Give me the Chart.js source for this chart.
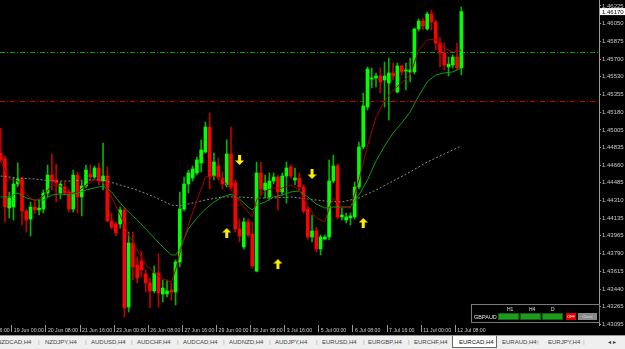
<!DOCTYPE html>
<html lang="en">
<head>
<meta charset="UTF-8">
<title>EURCAD,H4</title>
<script src="https://cdn.jsdelivr.net/npm/chart.js"></script>
<style>
  html, body {
    margin: 0;
    padding: 0;
    background: #000;
    overflow: hidden;
  }
  body {
    width: 625px;
    height: 349px;
    position: relative;
    font-family: 'Liberation Sans', Arial, sans-serif;
  }
  .chart-wrap {
    position: absolute;
    left: 0;
    top: 0;
    width: 625px;
    height: 335px;
  }
  .panel {
    position: absolute;
    left: 471px;
    top: 304px;
    width: 127px;
    height: 17px;
    border: 1px solid #7a7a7a;
  }
  .panel span {
    position: absolute;
    color: #e0e0e0;
    font-size: 5px;
    line-height: 5px;
    white-space: nowrap;
  }
  .panel .cell {
    height: 7px;
    top: 8px;
    background: #1f9a1f;
    border: 1px solid #0d640d;
    box-sizing: border-box;
  }
  .panel .btn {
    top: 8px;
    height: 7px;
    font-size: 4px;
    line-height: 7px;
    text-align: center;
  }
  .tabs {
    position: absolute;
    left: 0;
    top: 335px;
    width: 625px;
    height: 14px;
    background: #efefef;
    border-top: 1px solid #9a9a9a;
    box-sizing: border-box;
    overflow: hidden;
    font-family: 'Liberation Sans Narrow', 'Liberation Sans', Arial, sans-serif;
  }
  .tabs span {
    position: absolute;
    top: 3px;
    font-size: 6px;
    line-height: 7px;
    color: #444;
    white-space: nowrap;
  }
  .tabs .active {
    top: -1px;
    height: 13px;
    background: #fff;
    border: 1px solid #6a6a6a;
    border-top: none;
    box-sizing: border-box;
  }
  .tabs .sep {
    color: #9a9a9a;
  }
</style>
</head>
<body>
<div class="chart-wrap">
  <canvas id="chart"></canvas>
</div>
<div class="panel">
  <span style="left:2px;top:10px;font-size:5.5px">GBPAUD</span>
  <span style="left:35px;top:2px">H1</span>
  <span style="left:57px;top:2px">H4</span>
  <span style="left:79px;top:2px">D</span>
  <span class="cell" style="left:26px;width:21px"></span>
  <span class="cell" style="left:48px;width:21px"></span>
  <span class="cell" style="left:70px;width:21px"></span>
  <span class="btn" style="left:94px;width:10px;background:#e00000;color:#fff">OFF</span>
  <span class="btn" style="left:106px;width:19px;background:#8a8a8a;color:#ddd">Close</span>
</div>
<div class="tabs" id="tabs"></div>

<script>
  // H4 candles, oldest first
  const open = [
    1.44778, 1.44719, 1.44237, 1.44247, 1.44473, 1.44523, 1.44208, 1.44129, 1.44247, 1.44218,
    1.44227, 1.44385, 1.44562, 1.44513, 1.44385, 1.44444, 1.44395, 1.44227, 1.44562, 1.44346,
    1.44454, 1.44572, 1.44542, 1.44631, 1.44503, 1.44552, 1.44109, 1.44080, 1.44080, 1.44218,
    1.43263, 1.43893, 1.43676, 1.43716, 1.43588, 1.43499, 1.43421, 1.43598, 1.43391, 1.43391,
    1.43430, 1.43411, 1.43706, 1.44227, 1.44473, 1.44532, 1.44582, 1.44680, 1.44788, 1.45034,
    1.44552, 1.44651, 1.44532, 1.44464, 1.44769, 1.44483, 1.44031, 1.43854, 1.44100, 1.43981,
    1.43617, 1.44582, 1.44414, 1.44346, 1.44503, 1.44542, 1.44395, 1.44552, 1.44641, 1.44513,
    1.44532, 1.44444, 1.44227, 1.43952, 1.44011, 1.43834, 1.43932, 1.43952, 1.44503, 1.44651,
    1.44149, 1.44119, 1.44139, 1.44149, 1.44444, 1.44838, 1.45231, 1.45507, 1.45516, 1.45536,
    1.45497, 1.45467, 1.45566, 1.45379, 1.45635, 1.45585, 1.45576, 1.45576, 1.45999, 1.46077,
    1.45999, 1.46146, 1.46068, 1.45861, 1.45762, 1.45625, 1.45644, 1.45723, 1.45615
  ];
  const high = [
    1.45024, 1.44749, 1.44395, 1.44532, 1.44680, 1.44542, 1.44227, 1.44296, 1.44316, 1.44316,
    1.44414, 1.44660, 1.44769, 1.44670, 1.44493, 1.44493, 1.44424, 1.44611, 1.44592, 1.44503,
    1.44660, 1.44660, 1.44651, 1.44680, 1.44877, 1.44641, 1.44188, 1.44100, 1.44247, 1.44237,
    1.44001, 1.44001, 1.43755, 1.43814, 1.43627, 1.43548, 1.43667, 1.43785, 1.43529, 1.43529,
    1.43499, 1.43726, 1.44395, 1.44542, 1.44611, 1.44651, 1.44739, 1.44906, 1.45084, 1.45172,
    1.44778, 1.44729, 1.44592, 1.44906, 1.45034, 1.44513, 1.44129, 1.44139, 1.44129, 1.44100,
    1.44690, 1.44690, 1.44562, 1.44582, 1.44582, 1.44562, 1.44582, 1.44690, 1.44660, 1.44631,
    1.44582, 1.44464, 1.44247, 1.44168, 1.44050, 1.43972, 1.43972, 1.44710, 1.44759, 1.44670,
    1.44237, 1.44188, 1.44188, 1.44493, 1.44887, 1.45369, 1.45625, 1.45615, 1.45566, 1.45615,
    1.45674, 1.45713, 1.45664, 1.45664, 1.45644, 1.45664, 1.45713, 1.46008, 1.46097, 1.46107,
    1.46166, 1.46186, 1.46087, 1.45920, 1.45861, 1.45723, 1.45743, 1.45861, 1.46215
  ];
  const low = [
    1.44690, 1.44100, 1.44139, 1.44119, 1.44444, 1.44070, 1.44001, 1.43962, 1.44178, 1.44168,
    1.44188, 1.44346, 1.44414, 1.44296, 1.44326, 1.44365, 1.44198, 1.44198, 1.44188, 1.44159,
    1.44434, 1.44503, 1.44523, 1.44464, 1.44414, 1.44100, 1.44031, 1.43962, 1.44040, 1.43165,
    1.43214, 1.43529, 1.43499, 1.43558, 1.43411, 1.43253, 1.43401, 1.43263, 1.43312, 1.43362,
    1.43332, 1.43283, 1.43657, 1.44208, 1.44385, 1.44503, 1.44562, 1.44592, 1.44778, 1.44424,
    1.44513, 1.44513, 1.44424, 1.44444, 1.44424, 1.44001, 1.43903, 1.43834, 1.43952, 1.43647,
    1.43608, 1.44365, 1.44336, 1.44316, 1.44473, 1.44218, 1.44365, 1.44286, 1.44532, 1.44464,
    1.44414, 1.44188, 1.43932, 1.43903, 1.43804, 1.43775, 1.43922, 1.43922, 1.44483, 1.44129,
    1.44119, 1.44090, 1.44070, 1.44129, 1.44424, 1.44818, 1.45202, 1.45418, 1.45428, 1.45369,
    1.45231, 1.45103, 1.45497, 1.45369, 1.45546, 1.45398, 1.45477, 1.45556, 1.45979, 1.45989,
    1.45989, 1.45989, 1.45792, 1.45625, 1.45595, 1.45536, 1.45615, 1.45595, 1.45546
  ];
  const close = [
    1.44710, 1.44247, 1.44336, 1.44473, 1.44523, 1.44208, 1.44119, 1.44247, 1.44218, 1.44237,
    1.44385, 1.44562, 1.44503, 1.44483, 1.44473, 1.44385, 1.44227, 1.44562, 1.44346, 1.44454,
    1.44611, 1.44542, 1.44631, 1.44503, 1.44552, 1.44109, 1.44050, 1.43991, 1.44218, 1.43253,
    1.43893, 1.43657, 1.43548, 1.43627, 1.43499, 1.43421, 1.43598, 1.43401, 1.43450, 1.43421,
    1.43411, 1.43706, 1.44227, 1.44473, 1.44582, 1.44621, 1.44710, 1.44808, 1.45034, 1.44542,
    1.44690, 1.44542, 1.44473, 1.44769, 1.44444, 1.44031, 1.43962, 1.44100, 1.43972, 1.43667,
    1.44582, 1.44424, 1.44483, 1.44503, 1.44542, 1.44395, 1.44552, 1.44631, 1.44552, 1.44532,
    1.44444, 1.44208, 1.43952, 1.44011, 1.43834, 1.43952, 1.43952, 1.44503, 1.44651, 1.44149,
    1.44168, 1.44149, 1.44159, 1.44444, 1.44838, 1.45241, 1.45605, 1.45516, 1.45536, 1.45477,
    1.45536, 1.45566, 1.45536, 1.45635, 1.45576, 1.45595, 1.45595, 1.45999, 1.46077, 1.46028,
    1.46146, 1.46068, 1.45861, 1.45762, 1.45644, 1.45654, 1.45723, 1.45615, 1.46170
  ];

  // moving averages: [bar index, price]
  const fastMA = [
    [0, 1.44690], [2, 1.44523], [4, 1.44503], [6, 1.44365], [8, 1.44306], [10, 1.44355],
    [12, 1.44464], [14, 1.44454], [16, 1.44375], [18, 1.44395], [20, 1.44464], [22, 1.44513],
    [24, 1.44493], [26, 1.44346], [28, 1.44168], [30, 1.43972], [32, 1.43824], [34, 1.43686],
    [36, 1.43598], [38, 1.43539], [40, 1.43509], [41, 1.43627], [42, 1.43794], [44, 1.44070],
    [46, 1.44316], [48, 1.44542], [50, 1.44552], [52, 1.44523], [54, 1.44414], [56, 1.44306],
    [57, 1.44247], [58, 1.44198], [59, 1.44149], [60, 1.44316], [62, 1.44405], [64, 1.44434],
    [66, 1.44434], [68, 1.44464], [70, 1.44414], [72, 1.44257], [74, 1.44139], [76, 1.44100],
    [77, 1.44237], [78, 1.44336], [80, 1.44247], [82, 1.44237], [84, 1.44513], [86, 1.44847],
    [88, 1.45133], [90, 1.45290], [92, 1.45398], [94, 1.45467], [96, 1.45546], [98, 1.45792],
    [100, 1.45890], [102, 1.45900], [104, 1.45812], [106, 1.45772], [108, 1.45792]
  ];
  const slowMA = [
    [0, 1.44346], [2, 1.44346], [4, 1.44385], [6, 1.44336], [8, 1.44316], [10, 1.44316],
    [12, 1.44365], [14, 1.44375], [16, 1.44365], [18, 1.44385], [20, 1.44414], [22, 1.44434],
    [24, 1.44454], [26, 1.44395], [28, 1.44286], [30, 1.44198], [32, 1.44119], [34, 1.44031],
    [36, 1.43942], [38, 1.43854], [40, 1.43775], [41, 1.43775], [42, 1.43834], [44, 1.44031],
    [46, 1.44139], [48, 1.44227], [50, 1.44296], [52, 1.44346], [54, 1.44375], [56, 1.44326],
    [58, 1.44247], [59, 1.44218], [60, 1.44267], [62, 1.44296], [64, 1.44346], [66, 1.44365],
    [68, 1.44395], [70, 1.44405], [72, 1.44346], [74, 1.44277], [76, 1.44237], [78, 1.44247],
    [80, 1.44247], [82, 1.44247], [84, 1.44365], [86, 1.44513], [88, 1.44700], [90, 1.44847],
    [92, 1.44975], [94, 1.45074], [96, 1.45182], [98, 1.45339], [100, 1.45477], [102, 1.45546],
    [104, 1.45566], [106, 1.45576], [108, 1.45615]
  ];
  const longMA = [
    [0, 1.44552], [4, 1.44532], [8, 1.44523], [12, 1.44503], [16, 1.44503], [20, 1.44513],
    [24, 1.44513], [28, 1.44464], [32, 1.44414], [36, 1.44346], [40, 1.44267], [42, 1.44257],
    [44, 1.44277], [48, 1.44316], [52, 1.44346], [56, 1.44346], [60, 1.44336], [64, 1.44336],
    [68, 1.44346], [72, 1.44326], [76, 1.44306], [80, 1.44296], [84, 1.44336], [88, 1.44414],
    [92, 1.44503], [96, 1.44592], [100, 1.44690], [104, 1.44769], [108, 1.44847]
  ];

  // signal arrows
  const buySignals = [[53, 1.43991], [65, 1.43686], [85, 1.44090]];
  const sellSignals = [[56, 1.44710], [73, 1.44572]];

  // horizontal levels
  const levels = [1.45772, 1.45290];
  const levelColors = ['#00a400', '#c80000'];

  // axis labels
  const priceTicks = [
    1.46225, 1.46050, 1.45875, 1.45700, 1.45530, 1.45355, 1.45180, 1.45005, 1.44835, 1.44660,
    1.44485, 1.44310, 1.44135, 1.43965, 1.43790, 1.43615, 1.43440, 1.43265, 1.43095
  ];
  const timeTickPos = [-5.4, 2.6, 10.6, 18.6, 26.6, 34.6, 42.6, 50.6, 58.6, 66.6, 74.6, 82.6, 90.6, 98.6, 106.6];
  const timeLabels = [
    '16 Jun 16:00', '19 Jun 00:00', '20 Jun 08:00', '21 Jun 16:00', '23 Jun 00:00', '26 Jun 08:00',
    '27 Jun 16:00', '29 Jun 00:00', '30 Jun 08:00', '3 Jul 16:00', '5 Jul 00:00', '6 Jul 08:00',
    '7 Jul 16:00', '11 Jul 00:00', '12 Jul 08:00'
  ];

  const tabNames = [
    'NZDCAD,H4', 'NZDJPY,H4', 'AUDUSD,H4', 'AUDCHF,H4', 'AUDCAD,H4', 'AUDNZD,H4', 'AUDJPY,H4',
    'EURUSD,H4', 'EURGBP,H4', 'EURCHF,H4', 'EURCAD,H4', 'EURAUD,H4', 'EURJPY,H4'
  ];
  const activeTab = 'EURCAD,H4';

  // tab strip
  const tabLeft = [-3, 45, 91, 137, 183, 229, 275, 322, 368, 414, 459, 502, 548];
  const sepLeft = [38, 85, 131, 177, 223, 269, 316, 363, 408, 537, 583];
  const tabs = document.getElementById('tabs');
  tabNames.forEach((name, i) => {
    if (name === activeTab) {
      const box = document.createElement('span');
      box.className = 'active';
      box.style.left = (tabLeft[i] - 7) + 'px';
      box.style.width = '45px';
      tabs.appendChild(box);
    }
    const s = document.createElement('span');
    s.textContent = name;
    s.style.left = tabLeft[i] + 'px';
    if (name === activeTab) s.style.color = '#111';
    tabs.appendChild(s);
  });
  sepLeft.forEach(x => {
    const s = document.createElement('span');
    s.className = 'sep';
    s.textContent = '|';
    s.style.left = x + 'px';
    tabs.appendChild(s);
  });
  const nav = document.createElement('span');
  nav.textContent = '\u25C2 \u25B8';
  nav.style.left = '608px';
  nav.style.fontSize = '6px';
  nav.style.color = '#333';
  tabs.appendChild(nav);

  // arrow glyphs used as point styles
  function makeArrow(up) {
    const c = document.createElement('canvas');
    c.width = 9;
    c.height = 10;
    const g = c.getContext('2d');
    g.fillStyle = '#ffee00';
    g.beginPath();
    [[4.5, 0], [9, 4.5], [6, 4.5], [6, 10], [3, 10], [3, 4.5], [0, 4.5]].forEach(([x, y], i) => {
      const yy = up ? y : 10 - y;
      if (i) g.lineTo(x, yy); else g.moveTo(x, yy);
    });
    g.closePath();
    g.fill();
    return c;
  }

  const isUp = i => close[i] >= open[i];
  const wicks = open.map((_, i) => ({ x: i, y: [low[i], high[i]] }));
  const bodies = open.map((_, i) => ({ x: i, y: [open[i], close[i]] }));
  const toXY = arr => arr.map(([x, y]) => ({ x, y }));
  const lastPrice = close[close.length - 1];

  const overlay = {
    id: 'overlay',
    beforeDatasetsDraw(chart) {
      const { ctx, chartArea: a, scales: { y } } = chart;
      ctx.save();
      ctx.lineWidth = 1;
      ctx.setLineDash([5, 2, 1, 2]);
      levels.forEach((lv, i) => {
        const py = Math.round(y.getPixelForValue(lv)) + 0.5;
        ctx.strokeStyle = levelColors[i];
        ctx.beginPath();
        ctx.moveTo(a.left, py);
        ctx.lineTo(a.right, py);
        ctx.stroke();
      });
      ctx.restore();
    },
    afterDraw(chart) {
      const { ctx, chartArea: a, scales: { y } } = chart;
      const py = y.getPixelForValue(lastPrice);
      ctx.save();
      ctx.fillStyle = '#fff';
      ctx.fillRect(a.right + 1, py - 3.5, 25, 7);
      ctx.fillStyle = '#000';
      ctx.font = '6px "Liberation Sans", Arial, sans-serif';
      ctx.textBaseline = 'middle';
      ctx.fillText(lastPrice.toFixed(5), a.right + 3, py + 0.5);
      ctx.restore();
    }
  };

  // keep edge labels from pushing the plot area inward
  const noPad = s => {
    s._calculatePadding = () => {
      s.paddingLeft = 0;
      s.paddingRight = 0;
      s.paddingTop = 0;
      s.paddingBottom = 0;
    };
  };

  Chart.defaults.font.family = '"Liberation Sans", Arial, sans-serif';

  new Chart(document.getElementById('chart'), {
    type: 'bar',
    data: {
      datasets: [
        {
          type: 'line', data: toXY(buySignals), showLine: false,
          pointStyle: makeArrow(true), pointRadius: 5
        },
        {
          type: 'line', data: toXY(sellSignals), showLine: false,
          pointStyle: makeArrow(false), pointRadius: 5
        },
        {
          type: 'line', data: toXY(fastMA), borderColor: '#a80000',
          borderWidth: 1, pointRadius: 0, tension: 0
        },
        {
          type: 'line', data: toXY(slowMA), borderColor: '#0f9a0f',
          borderWidth: 1, pointRadius: 0, tension: 0
        },
        {
          type: 'line', data: toXY(longMA), borderColor: '#8c8c8c',
          borderWidth: 1, borderDash: [2, 2], pointRadius: 0, tension: 0
        },
        {
          data: bodies, grouped: false, barThickness: 3, minBarLength: 1,
          backgroundColor: c => isUp(c.dataIndex) ? '#00ff00' : '#ff0000'
        },
        {
          data: wicks, grouped: false, barThickness: 1,
          backgroundColor: c => isUp(c.dataIndex) ? '#00b400' : '#c00000'
        }
      ]
    },
    options: {
      responsive: true,
      maintainAspectRatio: false,
      animation: false,
      layout: { padding: 0, autoPadding: false },
      plugins: {
        legend: { display: false },
        tooltip: { enabled: false }
      },
      scales: {
        x: {
          type: 'linear',
          min: -0.164,
          max: 140.28,
          offset: false,
          beforeUpdate: noPad,
          afterBuildTicks: s => { s.ticks = timeTickPos.map(v => ({ value: v })); },
          afterFit: s => { s.height = 10; },
          ticks: {
            autoSkip: false,
            maxRotation: 0,
            align: 'start',
            labelOffset: 2,
            padding: -5,
            color: '#c8c8c8',
            font: { size: 5.2, family: '"Liberation Sans Narrow", "Liberation Sans", Arial, sans-serif' },
            callback: (v, i) => timeLabels[i]
          },
          grid: { drawOnChartArea: false, offset: false, tickLength: 7, tickColor: '#9a9a9a' },
          border: { display: false }
        },
        y: {
          type: 'linear',
          position: 'right',
          min: 1.43086,
          max: 1.46284,
          beginAtZero: false,
          beforeUpdate: noPad,
          afterBuildTicks: s => { s.ticks = priceTicks.map(v => ({ value: v })); },
          afterFit: s => { s.width = 26; },
          ticks: {
            padding: 1,
            color: '#c8c8c8',
            font: { size: 6 },
            callback: v => v.toFixed(5)
          },
          grid: { drawOnChartArea: false, tickLength: 2, tickColor: '#9a9a9a' },
          border: { display: true, color: '#9a9a9a' }
        }
      }
    },
    plugins: [overlay]
  });
</script>
</body>
</html>
